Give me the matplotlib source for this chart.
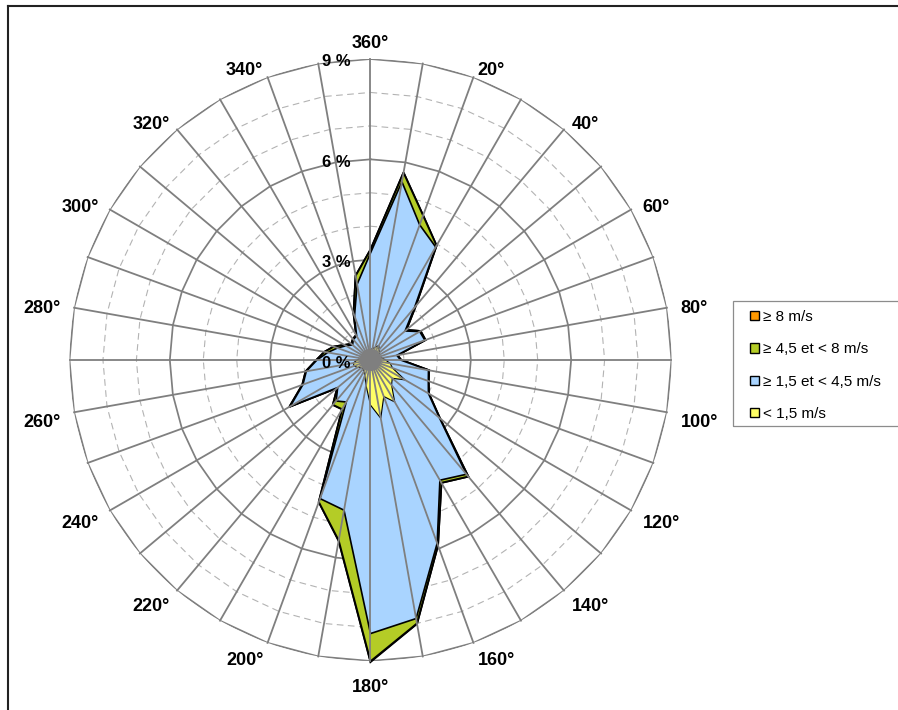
"""
Rose des vents (graphique radar empile, secteurs de 10 degres)
"""

import matplotlib
matplotlib.use("Agg")
import matplotlib.pyplot as plt
import numpy as np
from matplotlib.patches import Patch, Rectangle, Circle
from matplotlib.lines import Line2D

plt.rcParams["font.family"] = ["Liberation Sans", "DejaVu Sans"]

# Secteurs de direction (degres, 0 = 360 au nord)
directions = np.arange(0, 360, 10)

# Frequences (%) par classe de vitesse et par secteur
calm = [0.30, 0.35, 0.40, 0.50, 0.40, 0.35, 0.30, 0.30, 0.35, 0.45, 0.60, 0.70,
        1.19, 0.85, 0.98, 1.45, 1.16, 1.77, 1.35, 0.77, 0.50, 0.40, 0.35, 0.35,
        0.45, 0.52, 0.52, 0.40, 0.30, 0.30, 0.25, 0.25, 0.25, 0.25, 0.30, 0.30]
low = [2.90, 5.06, 3.90, 3.40, 1.65, 1.00, 1.40, 1.43, 0.45, 0.45, 1.16, 1.14,
       0.81, 1.84, 3.48, 2.70, 4.67, 6.08, 6.83, 3.79, 3.91, 1.05, 1.25, 0.93,
       2.32, 1.63, 1.43, 1.20, 1.00, 0.75, 0.60, 0.45, 0.55, 0.58, 1.10, 2.00]
mid = [0.10, 0.28, 0.30, 0.05, 0.05, 0.05, 0.03, 0.02, 0.02, 0.02, 0.02, 0.01,
       0.02, 0.02, 0.09, 0.09, 0.07, 0.15, 0.83, 0.92, 0.11, 0.25, 0.15, 0.02,
       0.03, 0.02, 0.02, 0.02, 0.10, 0.12, 0.05, 0.05, 0.02, 0.03, 0.08, 0.26]
high = [0.00, 0.00, 0.00, 0.00, 0.00, 0.00, 0.00, 0.00, 0.00, 0.00, 0.00, 0.00,
        0.00, 0.00, 0.00, 0.00, 0.00, 0.01, 0.02, 0.01, 0.00, 0.00, 0.00, 0.00,
        0.00, 0.00, 0.00, 0.00, 0.00, 0.00, 0.00, 0.00, 0.00, 0.00, 0.00, 0.00]

class_labels = ["≥ 8 m/s", "≥ 4,5 et < 8 m/s", "≥ 1,5 et < 4,5 m/s", "< 1,5 m/s"]
class_colors = ["#FF9900", "#B4CC26", "#A9D4FF", "#FFFF66"]

ring_levels = np.arange(1, 10)
value_ticks = [0, 3, 6, 9]
label_angles = np.arange(0, 360, 20)

GRID_COLOR = "#7F7F7F"
DASH_COLOR = "#B3B3B3"

fig = plt.figure(figsize=(8.98, 7.10), dpi=100)
ax = fig.add_axes([69.5 / 898, 49 / 710, 602 / 898, 602 / 710], projection="polar")
ax.set_theta_zero_location("N")
ax.set_theta_direction(-1)
ax.set_ylim(0, 9)
ax.grid(False)
ax.set_xticks([])
ax.set_yticks([])
ax.spines["polar"].set_visible(False)
ax.set_facecolor("none")

theta = np.deg2rad(np.append(directions, directions[0]))

# Anneaux polygonaux (pleins tous les 3 %, pointilles sinon)
for lvl in ring_levels:
    r = np.full(theta.shape, lvl, dtype=float)
    if lvl % 3 == 0:
        ax.plot(theta, r, color=GRID_COLOR, lw=1.25, zorder=1)
    else:
        ax.plot(theta, r, color=DASH_COLOR, lw=0.8, ls=(0, (6, 4)), zorder=1)

# Empilement cumule : la classe la plus forte est l'enveloppe exterieure
stack = np.cumsum(np.array([calm, low, mid, high]), axis=0)
series = [stack[3], stack[2], stack[1], stack[0]]
edge_w = [1.4, 1.4, 1.2, 0.8]
for i, vals in enumerate(series):
    r = np.append(vals, vals[0])
    ax.fill(theta, r, facecolor=class_colors[i], edgecolor="black",
            lw=edge_w[i], zorder=2 + i, clip_on=False)

# Rayons (ils se confondent au centre en une pastille grise)
for d in directions:
    t = np.deg2rad(d)
    ax.plot([t, t], [0, 9], color=GRID_COLOR, lw=1.3, zorder=7, clip_on=False)
ax.add_patch(Circle((0.5, 0.5), 11 / 602, transform=ax.transAxes,
                    facecolor=GRID_COLOR, edgecolor="none", zorder=8))

# Etiquettes des directions (a cote du sommet de l'anneau exterieur)
for d in label_angles:
    t = np.deg2rad(d)
    s, c = np.sin(t), np.cos(t)
    if d in (0, 180):
        ox, oy, ha = 0, np.sign(c) * 21 - 5.5, "center"
    else:
        ox = np.sign(s) * (3 + 11 * s ** 2)
        oy = np.sign(c) * (3 + 10 * abs(c)) - 5.5
        ha = "left" if s > 0 else "right"
    ax.annotate(f"{d if d else 360}°", xy=(t, 9), xytext=(ox, oy), textcoords="offset pixels",
                ha=ha, va="center", fontsize=13, weight="bold", annotation_clip=False)

# Etiquettes de l'axe des valeurs
for v in value_ticks:
    ax.annotate(f"{v} %", xy=(0, v), xytext=(-20, -3), textcoords="offset pixels",
                ha="right", va="center", fontsize=12, weight="bold", zorder=9,
                annotation_clip=False)

# Legende
handles = [Patch(facecolor=c, edgecolor="black", lw=1.0) for c in class_colors]
fig.legend(handles, class_labels, loc="upper left", bbox_to_anchor=(750 / 898, 1 - 310 / 710),
           frameon=False, fontsize=11, handlelength=0.58, handleheight=0.58,
           handletextpad=0.3, labelspacing=1.2, borderpad=0, borderaxespad=0)
fig.add_artist(Rectangle((733 / 898, 1 - 426 / 710), 0.5, 125 / 710, transform=fig.transFigure,
                         fill=False, edgecolor="#8C8C8C", lw=0.9))

# Cadre de la zone de graphique
fig.add_artist(Line2D([8 / 898, 8 / 898], [0, 1 - 6 / 710], color="#222222", lw=1.5))
fig.add_artist(Line2D([8 / 898, 1.0], [1 - 6 / 710, 1 - 6 / 710], color="#222222", lw=1.5))

fig.savefig("out.png", dpi=100)
plt.close(fig)
